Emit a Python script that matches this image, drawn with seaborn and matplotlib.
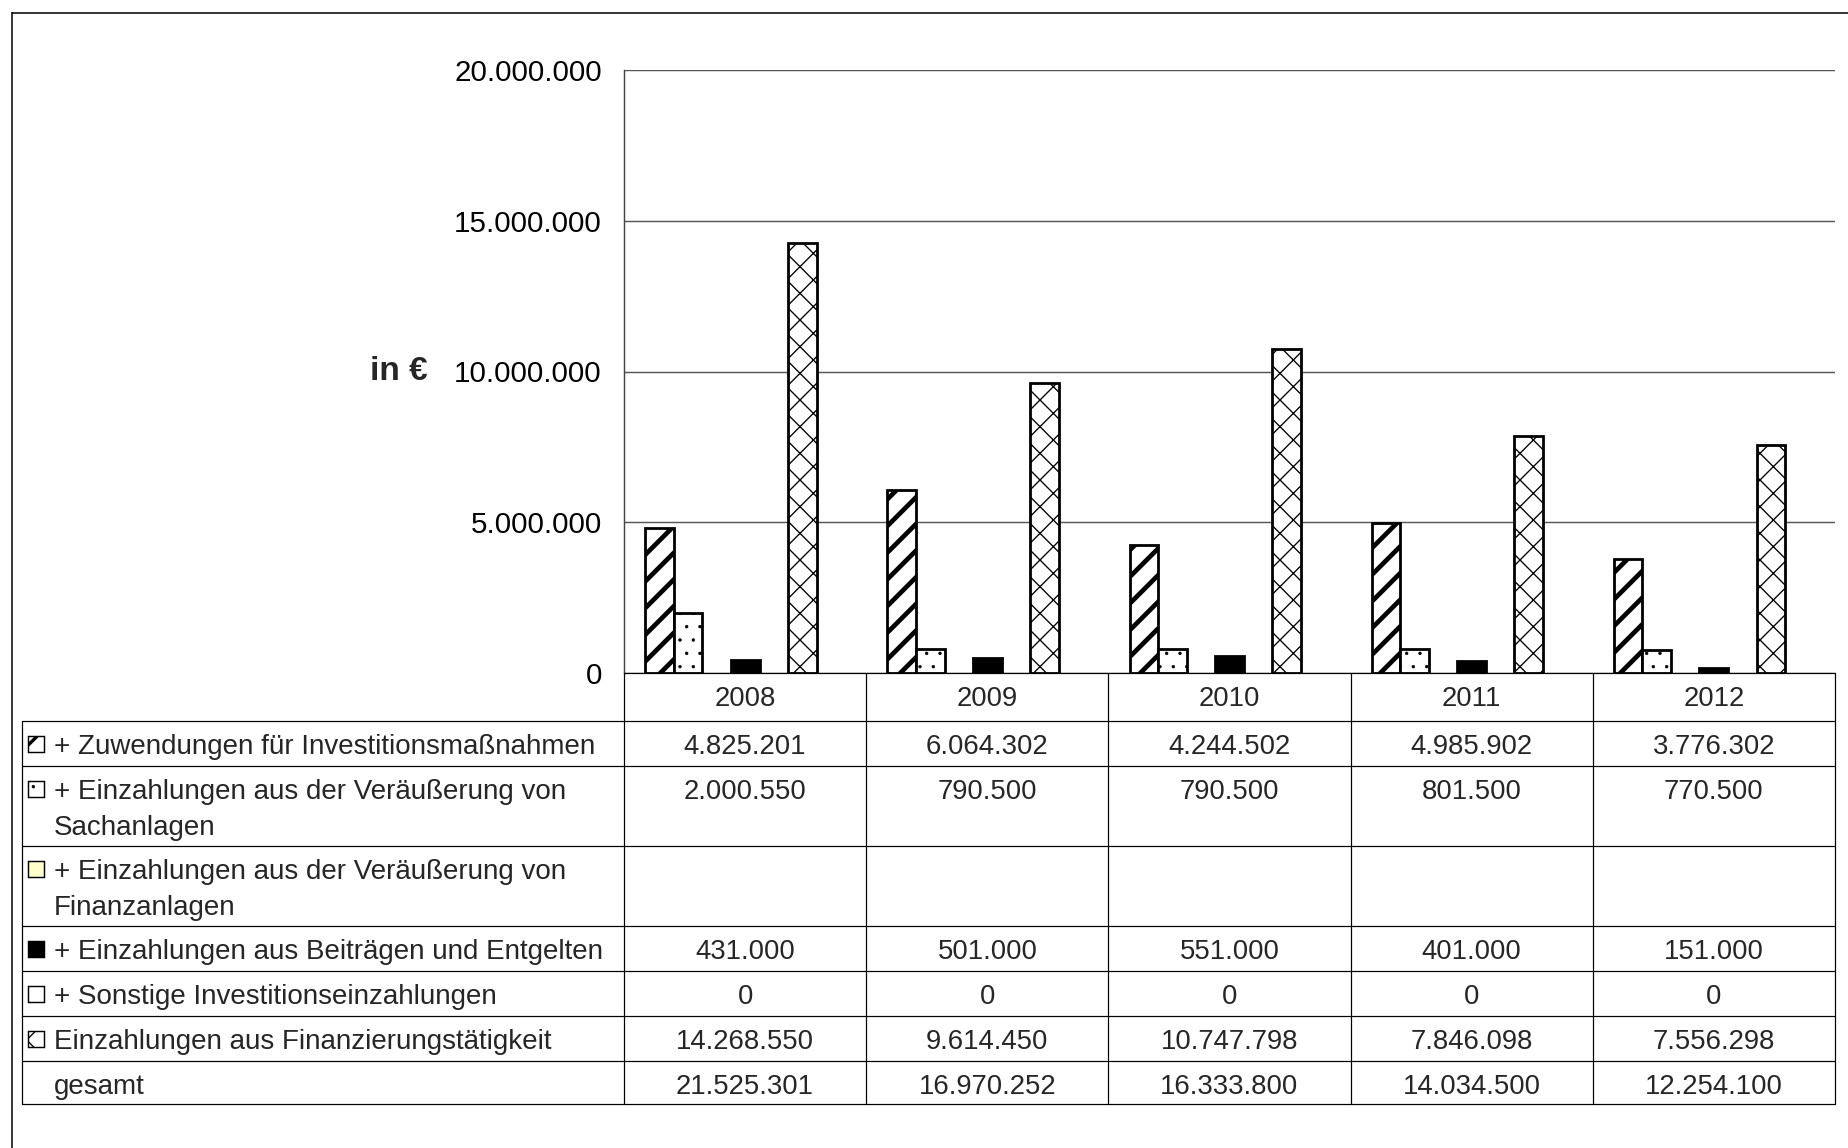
import numpy as np
import pandas as pd
import matplotlib
matplotlib.use("Agg")
import matplotlib.pyplot as plt
from matplotlib.patches import Rectangle
import seaborn as sns

# ---- data -------------------------------------------------------------
years = ["2008", "2009", "2010", "2011", "2012"]
zuwendungen = [4825201, 6064302, 4244502, 4985902, 3776302]
sachanlagen = [2000550, 790500, 790500, 801500, 770500]
finanzanlagen = [np.nan, np.nan, np.nan, np.nan, np.nan]
beitraege = [431000, 501000, 551000, 401000, 151000]
sonstige = [0, 0, 0, 0, 0]
finanzierung = [14268550, 9614450, 10747798, 7846098, 7556298]

series_labels = [
    "+ Zuwendungen für Investitionsmaßnahmen",
    "+ Einzahlungen aus der Veräußerung von\nSachanlagen",
    "+ Einzahlungen aus der Veräußerung von\nFinanzanlagen",
    "+ Einzahlungen aus Beiträgen und Entgelten",
    "+ Sonstige Investitionseinzahlungen",
    "Einzahlungen aus Finanzierungstätigkeit",
]
total_label = "gesamt"
y_ticks = [0, 5_000_000, 10_000_000, 15_000_000, 20_000_000]
y_label = "in €"

series_values = [zuwendungen, sachanlagen, finanzanlagen,
                 beitraege, sonstige, finanzierung]
keys = [f"s{i}" for i in range(len(series_values))]

rows = []
for key, vals in zip(keys, series_values):
    for yr, v in zip(years, vals):
        rows.append({"year": yr, "series": key, "value": v})
df = pd.DataFrame(rows)

totals = [int(np.nansum(col)) for col in zip(*series_values)]


def de_num(v):
    if v is None or (isinstance(v, float) and np.isnan(v)):
        return ""
    return f"{v:,.0f}".replace(",", ".")


# ---- styles -----------------------------------------------------------
fills = ["white", "white", "#FFFFCC", "black", "white", "white"]
hatches = ["/", ".", "", "", "", "x"]
hatch_lws = [4.2, 0.6, 1.0, 1.0, 1.0, 1.2]

sns.set_style("white")
plt.rcParams["font.family"] = ["Liberation Sans", "DejaVu Sans"]
plt.rcParams["hatch.linewidth"] = 4.2

DPI = 80
W, H = 1848, 1148
fig = plt.figure(figsize=(W / DPI, H / DPI), dpi=DPI)
fig.patch.set_facecolor("white")

# plot area in pixel coordinates
PL, PR, PT, PB = 624, 1835, 70, 673
ax = fig.add_axes([PL / W, 1 - PB / H, (PR - PL) / W, (PB - PT) / H])

BAR_W = 0.7076
sns.barplot(data=df, x="year", y="value", hue="series", order=years,
            hue_order=keys, palette=dict(zip(keys, fills)), width=BAR_W,
            saturation=1, edgecolor="black", linewidth=2.5, errorbar=None,
            legend=False, dodge=True, ax=ax)

slot_w = BAR_W / len(keys)
for p in ax.patches:
    cx = p.get_x() + p.get_width() / 2
    slot = int(round((cx - round(cx)) / slot_w + (len(keys) - 1) / 2))
    slot = min(max(slot, 0), len(keys) - 1)
    if hatches[slot]:
        p.set_hatch(hatches[slot])
        if hasattr(p, "set_hatch_linewidth"):
            p.set_hatch_linewidth(hatch_lws[slot])
    if not np.isfinite(p.get_height()) or p.get_height() == 0:
        p.set_linewidth(0)

ax.set_xlim(-0.442, 4.560)
ax.set_ylim(0, 20_000_000)
ax.set_yticks(y_ticks)
ax.set_yticklabels([de_num(t) for t in y_ticks])
ax.set_xticks([])
ax.set_xlabel("")
ax.set_ylabel("")
for s in ["top", "right", "bottom"]:
    ax.spines[s].set_visible(False)
ax.spines["left"].set_color("#444444")
ax.spines["left"].set_linewidth(1.3)
ax.yaxis.grid(True, color="#555555", linewidth=1.3)
ax.set_axisbelow(True)
ax.tick_params(axis="y", length=7.2, width=1.3, color="#444444",
               pad=12.8, labelsize=26.5, labelcolor="black")
ax.patch.set_alpha(0)

fig.text(428 / W, 1 - 372 / H, y_label, ha="right", va="center",
         fontsize=30, fontweight="bold")

# ---- data table below the plot -----------------------------------------
ov = fig.add_axes([0, 0, 1, 1])
ov.set_xlim(0, W)
ov.set_ylim(H, 0)
ov.axis("off")

LC = "black"
LW = 1.1
FS = 24.8
FS_LAB = 25.0
col_x = [PL + i * (PR - PL) / len(years) for i in range(len(years) + 1)]
row_y = [721, 766, 846, 926, 971, 1016, 1061, 1104]
TL = 22

# header row
ov.plot([PL, PR], [PB, PB], color=LC, lw=LW)
for x in col_x:
    ov.plot([x, x], [PB, row_y[-1]], color=LC, lw=LW)
ov.plot([TL, TL], [row_y[0], row_y[-1]], color=LC, lw=LW)
for y in row_y:
    ov.plot([TL, PR], [y, y], color=LC, lw=LW)

centers = [(col_x[i] + col_x[i + 1]) / 2 for i in range(len(years))]
for cx, yr in zip(centers, years):
    ov.text(cx, PB + 33.5, yr, ha="center", va="baseline", fontsize=FS)

row_labels = series_labels + [total_label]
row_values = series_values + [totals]
for i, (lab, vals) in enumerate(zip(row_labels, row_values)):
    top = row_y[i]
    base = top + 33
    for j, line in enumerate(lab.split("\n")):
        ov.text(54, base + j * 36, line, ha="left", va="baseline",
                fontsize=FS_LAB)
    for cx, v in zip(centers, vals):
        ov.text(cx, base, de_num(v), ha="center", va="baseline", fontsize=FS)
    if i < len(series_labels):
        mk = Rectangle((28, top + 22.5 - 8), 16, 16, facecolor=fills[i],
                       edgecolor="black", linewidth=1.3, hatch=hatches[i] or None)
        if hatches[i] and hasattr(mk, "set_hatch_linewidth"):
            mk.set_hatch_linewidth(min(hatch_lws[i], 3.0))
        ov.add_patch(mk)

# outer frame
ov.plot([12, 12], [12, H], color="#3a3a3a", lw=1.8, solid_capstyle="butt")
ov.plot([12, W], [12.5, 12.5], color="black", lw=1.4, solid_capstyle="butt")

fig.savefig("out.png", dpi=DPI, facecolor="white")
